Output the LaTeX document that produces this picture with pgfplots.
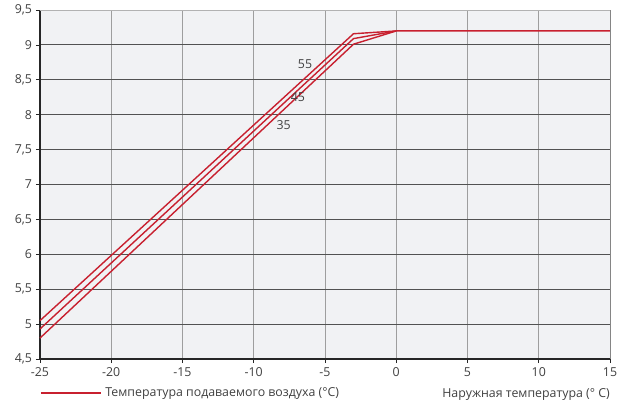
\documentclass[border=0pt]{standalone}
\usepackage{pgfplots}
\pgfplotsset{compat=1.18}
\usepackage{fontspec}
\setmainfont{Open Sans}
\definecolor{bg}{HTML}{F1F2F4}
\definecolor{rl}{HTML}{C8202F}
\definecolor{txt}{HTML}{404040}
\newcommand{\fs}{\fontsize{12.4}{14}\selectfont}
\begin{document}
\begin{tikzpicture}
\path[use as bounding box] (0,0) rectangle (630bp,403bp);
\begin{axis}[
  at={(40bp,44bp)}, anchor=south west,
  scale only axis, width=570bp, height=349bp,
  xmin=-25, xmax=15, ymin=4.5, ymax=9.5,
  xtick={-25,-20,...,15}, ytick={4.5,5,...,9.5},
  axis background/.style={fill=bg},
  axis x line=bottom, axis y line=left,
  axis line style={-, line width=1.3bp, black!85},
  tick align=outside, major tick length=4bp,
  tick style={line width=0.8bp, black!85},
  xmajorgrids, ymajorgrids,
  x grid style={line width=1bp, black!38},
  y grid style={line width=1bp, black!68},
  /pgf/number format/assume math mode=true,
  /pgf/number format/use comma,
  ticklabel style={font=\fs, text=txt},
  xticklabel style={yshift=-1bp},
  yticklabel style={xshift=-0.5bp},
  xlabel={Наружная температура (° C)},
  xlabel style={at={(rel axis cs:1,0)}, anchor=base east, yshift=-38bp, inner sep=0pt, font=\fs, text=txt},
  legend style={at={(rel axis cs:0,0)}, anchor=north west, yshift=-27bp, draw=none, fill=none, font=\fs, text=txt, inner sep=0pt, outer sep=0pt},
  legend cell align=left,
  legend image code/.code={\draw[rl, line width=1.5bp] (0,0) -- (60bp,0);},
  clip=false,
]
\addplot[rl, line width=1.4bp] coordinates {(-25,5.05) (-3,9.16) (0,9.2) (15,9.2)};
\addlegendentry{\hspace*{2bp}Температура подаваемого воздуха (°C)}
\addplot[rl, line width=1.4bp, forget plot] coordinates {(-25,4.93) (-3,9.09) (0,9.2)};
\addplot[rl, line width=1.4bp, forget plot] coordinates {(-25,4.80) (-3,9.01) (0,9.2)};
\node[font=\fs, text=txt] at (axis cs:-6.4,8.73) {55};
\node[font=\fs, text=txt] at (axis cs:-6.9,8.25) {45};
\node[font=\fs, text=txt] at (axis cs:-7.9,7.85) {35};
\draw[black!48, line width=1bp] (rel axis cs:1,0) -- (rel axis cs:1,1);
\draw[black!30, line width=1bp] (rel axis cs:0,1) -- (rel axis cs:1,1);
\end{axis}
\end{tikzpicture}
\end{document}
